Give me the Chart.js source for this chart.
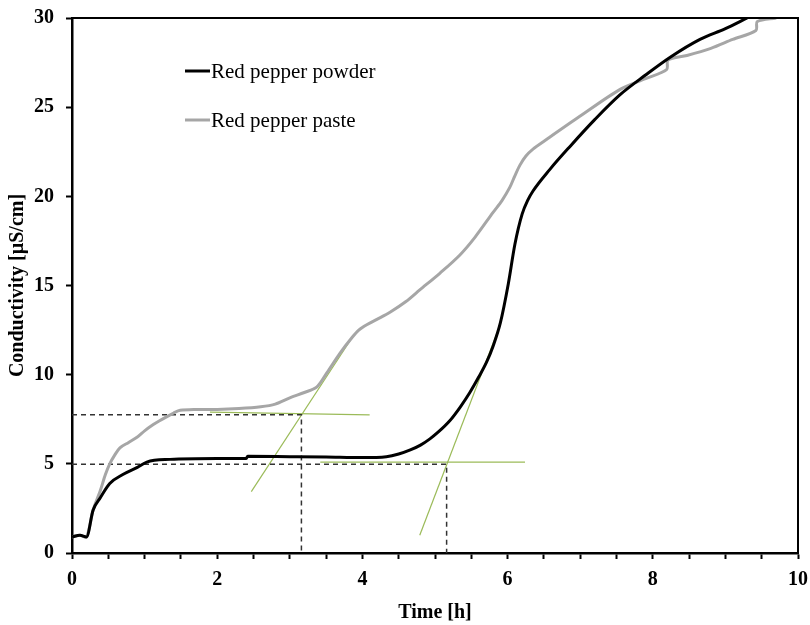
<!DOCTYPE html>
<html>
<head>
<meta charset="utf-8">
<script src="https://cdn.jsdelivr.net/npm/chart.js@4.4.1/dist/chart.umd.min.js"></script>
<style>
  body { margin: 0; background: #fff; }
  #wrap { width: 810px; height: 625px; }
</style>
</head>
<body>
<div id="wrap"><canvas id="myChart"></canvas></div>
<script>
// Red pepper powder (black)
const powderTime = [0, 0.11, 0.2, 0.29, 0.39, 0.52, 0.7, 0.9, 1.03, 1.35, 2.0, 2.4, 2.42, 3.0, 3.5, 4.0, 4.33, 4.5, 4.66, 4.8, 4.93, 5.05, 5.2, 5.35, 5.48, 5.6, 5.71, 5.8, 5.9, 6.01, 6.1, 6.2, 6.28, 6.35, 6.58, 6.86, 7.2, 7.55, 7.9, 8.24, 8.65, 9.0, 9.3];
const powderCond = [0.9, 1.0, 0.9, 2.4, 3.1, 3.9, 4.4, 4.8, 5.1, 5.25, 5.3, 5.3, 5.42, 5.4, 5.38, 5.35, 5.4, 5.55, 5.78, 6.05, 6.4, 6.8, 7.4, 8.2, 9.0, 9.85, 10.7, 11.6, 12.9, 15.1, 17.3, 19.0, 19.8, 20.3, 21.5, 22.8, 24.3, 25.7, 26.8, 27.8, 28.8, 29.4, 30.0];

// Red pepper paste (gray)
const pasteTime = [0, 0.11, 0.2, 0.29, 0.39, 0.46, 0.52, 0.59, 0.66, 0.78, 0.9, 1.0, 1.12, 1.2, 1.31, 1.4, 1.49, 1.7, 2.0, 2.3, 2.6, 2.8, 3.0, 3.2, 3.37, 3.51, 3.69, 3.86, 3.95, 4.06, 4.2, 4.38, 4.6, 4.79, 5.07, 5.34, 5.55, 5.8, 5.92, 6.03, 6.1, 6.17, 6.25, 6.35, 6.54, 7.0, 7.55, 7.9, 8.19, 8.21, 8.47, 8.8, 9.1, 9.42, 9.44, 9.7];
const pasteCond = [0.9, 1.0, 0.9, 2.4, 3.5, 4.4, 5.0, 5.5, 5.9, 6.2, 6.5, 6.85, 7.2, 7.4, 7.65, 7.85, 8.0, 8.05, 8.05, 8.1, 8.2, 8.35, 8.7, 9.0, 9.3, 10.1, 11.2, 12.1, 12.5, 12.8, 13.1, 13.5, 14.1, 14.75, 15.7, 16.7, 17.7, 19.1, 19.75, 20.5, 21.15, 21.75, 22.25, 22.65, 23.2, 24.5, 26.0, 26.6, 27.1, 27.65, 27.9, 28.3, 28.8, 29.3, 29.8, 30.0];

// dashed guide lines to the axes
const guidePasteX = [0, 3.16, 3.16];
const guidePasteY = [7.75, 7.75, 0];
const guidePowderX = [0, 5.16, 5.16];
const guidePowderY = [4.97, 4.97, 0];

// green tangent lines
const tanPasteSlopeX = [2.47, 3.83];
const tanPasteSlopeY = [3.44, 11.9];
const tanPasteFlatX = [1.9, 4.1];
const tanPasteFlatY = [7.9, 7.74];
const tanPowderSlopeX = [4.79, 5.87];
const tanPowderSlopeY = [1.0, 12.5];
const tanPowderFlatX = [3.42, 6.24];
const tanPowderFlatY = [5.1, 5.1];

const xTicks = [0, 2, 4, 6, 8, 10];

function pts(xs, ys) {
    return xs.map((x, i) => ({ x: x, y: ys[i] }));
}

function guide(xs, ys) {
    return {
        data: pts(xs, ys),
        borderColor: '#333333',
        borderWidth: 1.5,
        borderDash: [5, 4],
        pointRadius: 0,
        tension: 0
    };
}

function tangent(xs, ys) {
    return {
        data: pts(xs, ys),
        borderColor: '#9bbb59',
        borderWidth: 1.2,
        pointRadius: 0,
        tension: 0
    };
}

const serif = "'Liberation Serif', 'Times New Roman', serif";

const boxAndLegend = {
    id: 'boxAndLegend',
    afterDraw(chart) {
        const ctx = chart.ctx;
        const a = chart.chartArea;
        ctx.save();
        ctx.strokeStyle = '#000';
        ctx.lineWidth = 2;
        ctx.beginPath();
        ctx.moveTo(a.left, a.top);
        ctx.lineTo(a.right, a.top);
        ctx.lineTo(a.right, a.bottom);
        ctx.stroke();

        // legend inside the plot
        const rows = [53, 102];
        ctx.font = "21px " + serif;
        ctx.textBaseline = 'middle';
        ctx.fillStyle = '#000';
        for (let i = 0; i < 2; i++) {
            const ds = chart.data.datasets[i];
            const y = a.top + rows[i];
            ctx.strokeStyle = ds.borderColor;
            ctx.lineWidth = 3;
            ctx.beginPath();
            ctx.moveTo(a.left + 113, y);
            ctx.lineTo(a.left + 138, y);
            ctx.stroke();
            ctx.fillText(ds.label, a.left + 139, y + 1);
        }
        ctx.restore();
    }
};

new Chart(document.getElementById('myChart'), {
    type: 'line',
    data: {
        datasets: [
            {
                label: 'Red pepper powder',
                data: pts(powderTime, powderCond),
                borderColor: '#000000',
                borderWidth: 3,
                pointRadius: 0,
                cubicInterpolationMode: 'monotone'
            },
            {
                label: 'Red pepper paste',
                data: pts(pasteTime, pasteCond),
                borderColor: '#a6a6a6',
                borderWidth: 3,
                pointRadius: 0,
                tension: 0.3
            },
            guide(guidePasteX, guidePasteY),
            guide(guidePowderX, guidePowderY),
            tangent(tanPasteSlopeX, tanPasteSlopeY),
            tangent(tanPasteFlatX, tanPasteFlatY),
            tangent(tanPowderSlopeX, tanPowderSlopeY),
            tangent(tanPowderFlatX, tanPowderFlatY)
        ]
    },
    options: {
        responsive: true,
        maintainAspectRatio: false,
        animation: false,
        layout: { padding: { top: 18, right: 12, left: 0, bottom: 0 } },
        plugins: {
            legend: { display: false },
            tooltip: { enabled: false }
        },
        scales: {
            x: {
                type: 'linear',
                min: 0,
                max: 10,
                afterFit: s => {
                    s.height = 72;
                    s.paddingLeft = 0;
                    s.paddingRight = 0;
                },
                ticks: {
                    stepSize: 0.5,
                    autoSkip: false,
                    maxRotation: 0,
                    padding: 9,
                    color: '#000',
                    font: { family: serif, size: 20, weight: 'bold' },
                    callback: v => (xTicks.includes(v) ? v : '')
                },
                grid: {
                    drawOnChartArea: false,
                    tickLength: 6,
                    tickWidth: 2,
                    tickColor: '#000'
                },
                border: { color: '#000', width: 2.5 },
                title: {
                    display: true,
                    text: 'Time [h]',
                    color: '#000',
                    padding: { top: 0, bottom: 0 },
                    font: { family: serif, size: 20, weight: 'bold' }
                }
            },
            y: {
                min: 0,
                max: 30,
                afterFit: s => {
                    s.width = 72;
                    s.paddingTop = 0;
                    s.paddingBottom = 0;
                },
                ticks: {
                    stepSize: 5,
                    padding: 12,
                    color: '#000',
                    font: { family: serif, size: 20, weight: 'bold' }
                },
                grid: {
                    drawOnChartArea: false,
                    tickLength: 6,
                    tickWidth: 2,
                    tickColor: '#000'
                },
                border: { color: '#000', width: 2.5 },
                title: {
                    display: true,
                    text: 'Conductivity [µS/cm]',
                    color: '#000',
                    padding: { top: 6, bottom: 0 },
                    font: { family: serif, size: 20, weight: 'bold' }
                }
            }
        }
    },
    plugins: [boxAndLegend]
});
</script>
</body>
</html>
